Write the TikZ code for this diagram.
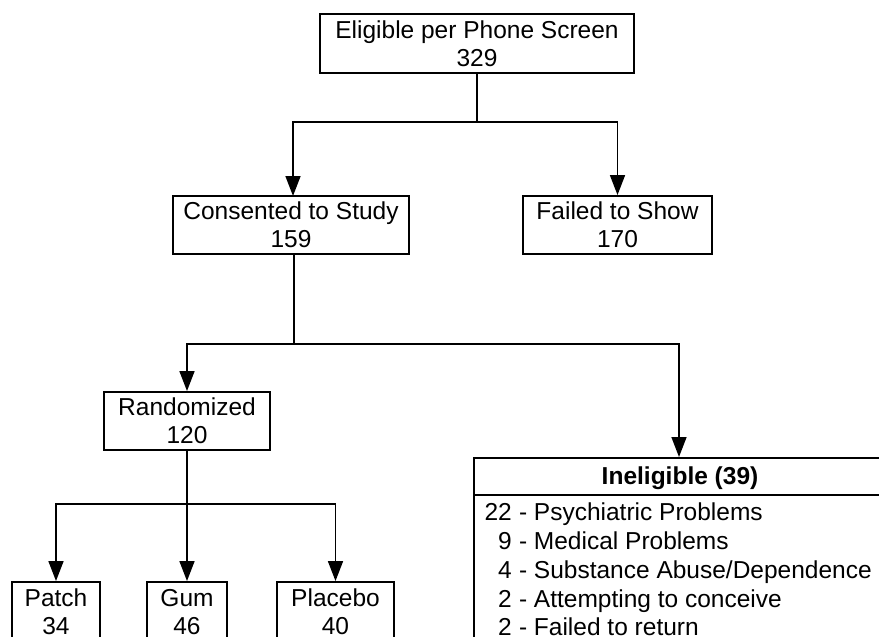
\documentclass[tikz,border=0pt]{standalone}
\usepackage{fontspec}
\setmainfont{Liberation Sans}
\usetikzlibrary{arrows.meta,calc}
\begin{document}
\begin{tikzpicture}[x=1pt,y=-1pt,
  every node/.style={font=\fontsize{24.5pt}{28pt}\selectfont},
  box/.style={draw,line width=1.9pt,align=center,inner sep=0pt},
  conn/.style={line width=1.6pt},
  arr/.style={conn,-{Triangle[length=20pt,width=15pt]}},
  txt/.style={inner sep=0pt,anchor=base}
]
\useasboundingbox (0,0) rectangle (879,637);
\clip (0,0) rectangle (879,637);
\fill[white] (0,0) rectangle (879,637);

% boxes
\node[box,minimum width=314pt,minimum height=59pt] (top) at (477,43.5) {Eligible per Phone Screen\\329};
\node[box,minimum width=236pt,minimum height=58pt] (cons) at (291,225) {Consented to Study\\159};
\node[box,minimum width=189pt,minimum height=58pt] (fail) at (617.5,225) {Failed to Show\\170};
\node[box,minimum width=166pt,minimum height=58pt] (rand) at (187,421) {Randomized\\120};
\node[box,minimum width=88pt,minimum height=60pt] (patch) at (56,612) {Patch\\34};
\node[box,minimum width=80pt,minimum height=60pt] (gum) at (187,612) {Gum\\46};
\node[box,minimum width=117pt,minimum height=60pt] (plac) at (335.5,612) {Placebo\\40};

% ineligible box
\node[draw,line width=1.9pt,inner sep=0pt,anchor=north west,minimum width=420pt,minimum height=220pt] (inel) at (473,457) {};
\draw[line width=1.9pt] (473,495) -- (900,495);
\node[txt,font=\fontsize{24.5pt}{28pt}\selectfont\bfseries] (inelh) at (680,484.5) {Ineligible (39)};
\node[txt,anchor=base east] (n1) at (512,520) {22};
\node[txt,anchor=base west] (t1) at (512,520) {\ - Psychiatric Problems};
\node[txt,anchor=base east] (n2) at (512,549) {9};
\node[txt,anchor=base west] (t2) at (512,549) {\ - Medical Problems};
\node[txt,anchor=base east] (n3) at (512,578) {4};
\node[txt,anchor=base west] (t3) at (512,578) {\ - Substance Abuse/Dependence};
\node[txt,anchor=base east] (n4) at (512,607) {2};
\node[txt,anchor=base west] (t4) at (512,607) {\ - Attempting to conceive};
\node[txt,anchor=base east] (n5) at (512,635) {2};
\node[txt,anchor=base west] (t5) at (512,635) {\ - Failed to return};

% junctions
\coordinate (j1) at (477,122);
\coordinate (j2) at (294,344);
\coordinate (j3) at (187,504);
\coordinate (ie) at (679,457);
\coordinate (ca) at (293,196);

% connectors
\draw[conn] (top.south) -- (j1);
\draw[arr] (j1) -| (ca);
\draw[arr] (j1) -| (fail.north);
\draw[conn] (cons.south -| j2) -- (j2);
\draw[arr] (j2) -| (rand.north);
\draw[arr] (j2) -| (ie);
\draw[conn] (rand.south) -- (j3);
\draw[arr] (j3) -| (patch.north);
\draw[arr] (j3) -- (gum.north);
\draw[arr] (j3) -| (plac.north);
\end{tikzpicture}
\end{document}
